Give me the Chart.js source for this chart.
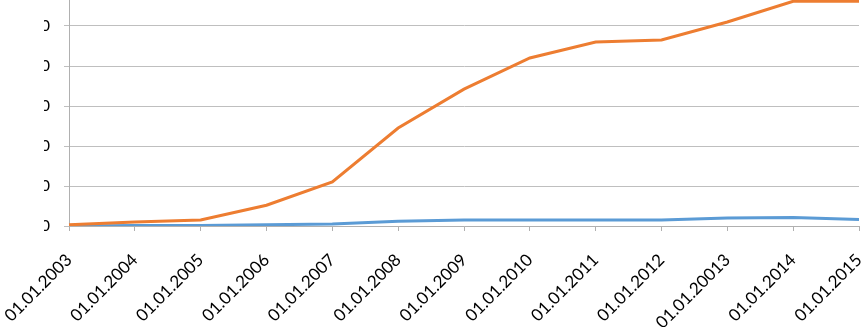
<!DOCTYPE html>
<html>
<head>
<meta charset="utf-8">
<script src="https://cdn.jsdelivr.net/npm/chart.js@4.4.1/dist/chart.umd.min.js"></script>
<style>
    html, body { margin: 0; padding: 0; background: #fff; }
    #wrap { position: relative; width: 863px; height: 327px; overflow: hidden; }
    #chart { position: absolute; left: -40px; top: -30px; }
</style>
</head>
<body>
<div id="wrap">
    <canvas id="chart" width="903" height="357"></canvas>
</div>
<script>
"use strict";

// Data
const categories = [
    '01.01.2003', '01.01.2004', '01.01.2005', '01.01.2006', '01.01.2007',
    '01.01.2008', '01.01.2009', '01.01.2010', '01.01.2011', '01.01.2012',
    '01.01.20013', '01.01.2014', '01.01.2015'
];
const orangeValues = [3, 10, 15, 52, 110, 245, 342, 420, 460, 465, 510, 562, 562];
const blueValues = [0, 1, 1, 3, 5, 12, 15, 15, 15, 15, 20, 21, 16];
const yTicks = [0, 100, 200, 300, 400, 500, 600];

// Left part of the value labels is cut off in the original
const labelMask = {
    id: 'labelMask',
    afterDraw(chart) {
        const ctx = chart.ctx;
        ctx.save();
        ctx.fillStyle = '#ffffff';
        ctx.fillRect(0, 0, 84, 266);
        ctx.restore();
    }
};

new Chart(document.getElementById('chart').getContext('2d'), {
    type: 'line',
    data: {
        labels: categories,
        datasets: [
            {
                label: 'Series 2',
                data: orangeValues,
                borderColor: '#ed7d31',
                borderWidth: 3,
                pointRadius: 0,
                tension: 0,
                fill: false
            },
            {
                label: 'Series 1',
                data: blueValues,
                borderColor: '#5b9bd5',
                borderWidth: 3,
                pointRadius: 0,
                tension: 0,
                fill: false
            }
        ]
    },
    options: {
        responsive: false,
        animation: false,
        layout: { padding: { top: 16, right: 4, left: 0, bottom: 0 } },
        plugins: {
            legend: { display: false },
            tooltip: { enabled: false }
        },
        scales: {
            x: {
                offset: false,
                grid: {
                    drawOnChartArea: false,
                    drawTicks: true,
                    tickLength: 5,
                    color: '#b0b0b0'
                },
                border: { color: '#b0b0b0' },
                ticks: {
                    minRotation: 45,
                    maxRotation: 45,
                    autoSkip: false,
                    padding: 19,
                    color: '#000',
                    font: { family: 'Lato', size: 17 }
                },
                afterFit: (scale) => {
                    scale.height = 101;
                    scale.paddingLeft = 0;
                    scale.paddingRight = 0;
                }
            },
            y: {
                min: 0,
                max: 600,
                afterBuildTicks: (scale) => {
                    scale.ticks = yTicks.map(v => ({ value: v }));
                },
                grid: {
                    color: '#bfbfbf',
                    tickLength: 5
                },
                border: { color: '#b0b0b0' },
                ticks: {
                    padding: 14,
                    color: '#000',
                    font: { family: 'Lato', size: 16 }
                },
                afterFit: (scale) => {
                    scale.width = 109;
                    scale.paddingTop = 0;
                    scale.paddingBottom = 0;
                }
            }
        }
    },
    plugins: [labelMask]
});
</script>
</body>
</html>
